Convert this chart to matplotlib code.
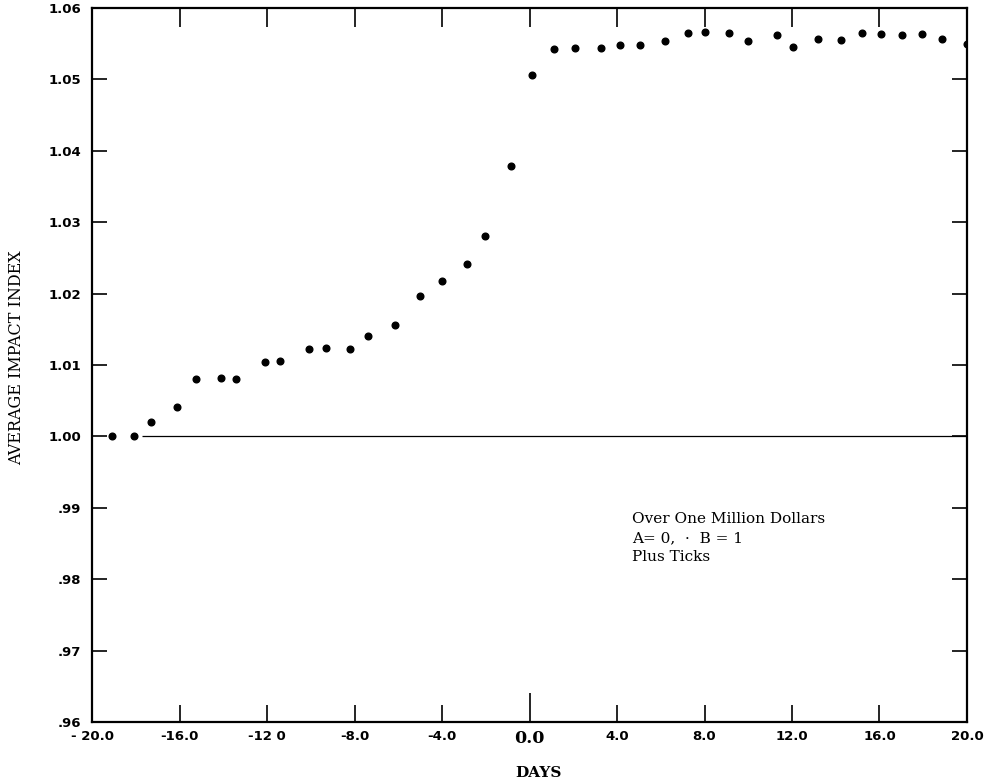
import matplotlib
matplotlib.use("Agg")
import matplotlib.pyplot as plt

# Dati (giorni attorno all'evento, indice medio di impatto)
days = [-19.1, -18.1, -17.3, -16.1, -15.25, -14.1, -13.4, -12.1, -11.4, -10.1,
        -9.3, -8.2, -7.4, -6.15, -5.0, -4.0, -2.85, -2.05, -0.85, 0.1,
        1.1, 2.1, 3.25, 4.15, 5.05, 6.2, 7.25, 8.0, 9.1, 10.0,
        11.3, 12.05, 13.2, 14.25, 15.2, 16.05, 17.05, 17.95, 18.85, 20.0]
impact = [1.0000, 1.0001, 1.0020, 1.0041, 1.0081, 1.0082, 1.0080, 1.0104, 1.0105, 1.0123,
          1.0124, 1.0122, 1.0140, 1.0156, 1.0197, 1.0218, 1.0242, 1.0280, 1.0379, 1.0506,
          1.0542, 1.0544, 1.0544, 1.0548, 1.0548, 1.0554, 1.0565, 1.0567, 1.0565, 1.0554,
          1.0562, 1.0546, 1.0557, 1.0555, 1.0565, 1.0563, 1.0562, 1.0563, 1.0557, 1.0549]

x_ticks = [-20, -16, -12, -8, -4, 0, 4, 8, 12, 16, 20]
x_tick_labels = ["- 20.0", "-16.0", "-12 0", "-8.0", "-4.0", "0.0",
                 "4.0", "8.0", "12.0", "16.0", "20.0"]
y_ticks = [0.96, 0.97, 0.98, 0.99, 1.00, 1.01, 1.02, 1.03, 1.04, 1.05, 1.06]
y_tick_labels = [".96", ".97", ".98", ".99", "1.00", "1.01", "1.02",
                 "1.03", "1.04", "1.05", "1.06"]

fig = plt.figure(figsize=(9.97, 7.83), dpi=100)
ax = fig.add_axes([0.0923, 0.0779, 0.8776, 0.9119])

# linea di riferimento a 1.00
ax.hlines(1.0, -17.7, 20, color="black", linewidth=0.9, zorder=2)
ax.plot(days, impact, "o", color="black", markersize=4.8, zorder=3)

ax.set_xlim(-20, 20)
ax.set_ylim(0.96, 1.06)

ax.set_xticks(x_ticks)
ax.set_xticklabels(x_tick_labels, fontsize=9.5, fontweight="bold", family="DejaVu Sans")
ax.set_yticks(y_ticks)
ax.set_yticklabels(y_tick_labels, fontsize=9.5, fontweight="bold", family="DejaVu Sans")

ax.tick_params(axis="both", direction="in", width=1.2, top=True, right=True)
ax.tick_params(axis="x", length=12, pad=6)
ax.tick_params(axis="y", length=11, pad=8)

# tick superiori piu lunghi, tick dello zero piu lungo
for t in ax.xaxis.get_major_ticks():
    t.tick2line.set_markersize(14)
xt = ax.xaxis.get_major_ticks()
xt[5].tick1line.set_markersize(21)
zero_lab = ax.get_xticklabels()[5]
zero_lab.set_fontsize(12.5)
zero_lab.set_family("DejaVu Serif")

for s in ax.spines.values():
    s.set_linewidth(1.6)

ax.set_ylabel("AVERAGE IMPACT INDEX", family="DejaVu Serif", fontsize=11.5)
ax.yaxis.set_label_coords(-0.077, 0.51)
ax.set_xlabel("DAYS", family="DejaVu Serif", fontsize=11, fontweight="bold")
ax.xaxis.set_label_coords(0.51, -0.062)

ax.text(0.617, 0.294, "Over One Million Dollars\nA= 0,  \u00b7  B = 1\nPlus Ticks",
        transform=ax.transAxes, family="DejaVu Serif", fontsize=11,
        va="top", ha="left", linespacing=1.45)

fig.savefig("out.png", dpi=100)
